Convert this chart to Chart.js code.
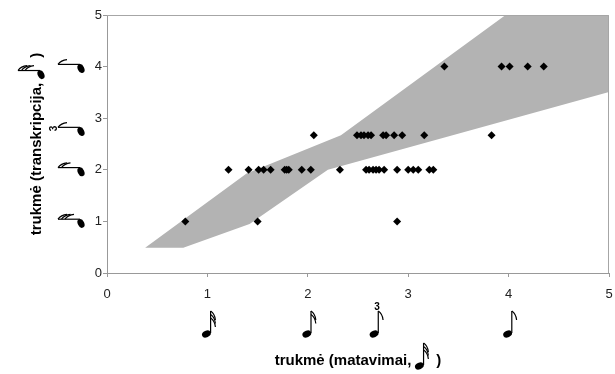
<!DOCTYPE html>
<html>
<head>
<meta charset="utf-8">
<script src="https://cdn.jsdelivr.net/npm/chart.js@4.4.1/dist/chart.umd.min.js"></script>
<style>
  html, body { margin: 0; padding: 0; background: #fff; }
  #wrap { width: 615px; height: 374px; }
</style>
</head>
<body>
<div id="wrap"><canvas id="chart" width="615" height="374"></canvas></div>
<script>
// measured points, grouped by transcribed duration (y)
const rowY = [1, 2, 2.67, 4];
const rowX = [
  [0.78, 1.50, 2.89],
  [1.21, 1.41, 1.51, 1.56, 1.63, 1.77, 1.79, 1.81, 1.94, 2.03, 2.32,
   2.58, 2.61, 2.65, 2.68, 2.71, 2.76, 2.89, 3.00, 3.05, 3.10, 3.21, 3.25],
  [2.06, 2.49, 2.53, 2.56, 2.60, 2.63, 2.75, 2.78, 2.86, 2.94, 3.16, 3.83],
  [3.36, 3.93, 4.01, 4.19, 4.35]
];

// grey tolerance band (outline)
const bandX = [0.38, 1.39, 2.33, 3.97, 5, 5, 2.2, 1.42, 0.76, 0.38];
const bandY = [0.49, 1.93, 2.67, 5, 5, 3.51, 2.0, 0.95, 0.49, 0.49];

// note symbols next to the axes: value, number of flags, triplet
const xNoteValues = [1, 2, 2.67, 4];
const yNoteValues = [1, 2, 2.78, 4];
const noteFlags = [3, 2, 1, 1];
const noteTriplet = [false, false, true, false];

const xTitle = "trukmė (matavimai,      )";
const yTitle = "trukmė (transkripcija,      )";
const FAMILY = "'Liberation Sans', Arial, sans-serif";

const points = [];
rowY.forEach((y, i) => rowX[i].forEach(x => points.push({ x, y })));
const band = bandX.map((x, i) => ({ x, y: bandY[i] }));

function drawNote(ctx, x, y, flags, triplet, angle) {
  ctx.save();
  ctx.translate(x, y);
  ctx.rotate(angle);
  ctx.fillStyle = "#000";
  ctx.strokeStyle = "#000";
  ctx.beginPath();
  ctx.ellipse(0, 0, 4.6, 3.2, -0.45, 0, Math.PI * 2);
  ctx.fill();
  ctx.lineWidth = 1.2;
  ctx.beginPath();
  ctx.moveTo(4.2, -1);
  ctx.lineTo(4.2, -23);
  ctx.stroke();
  for (let i = 0; i < flags; i++) {
    const fy = -23 + i * 3.5;
    ctx.beginPath();
    ctx.moveTo(4.2, fy);
    ctx.quadraticCurveTo(8.5, fy + 3, 9, fy + 9);
    ctx.stroke();
  }
  if (triplet) {
    ctx.font = "bold 10px " + FAMILY;
    ctx.textAlign = "center";
    ctx.textBaseline = "alphabetic";
    ctx.fillText("3", 3, -24);
  }
  ctx.restore();
}

const notesPlugin = {
  id: "notes",
  afterDraw(chart) {
    const { ctx, chartArea: a } = chart;
    const xs = chart.scales.x, ys = chart.scales.y;

    // frame on top and right
    ctx.save();
    ctx.strokeStyle = "#a6a6a6";
    ctx.lineWidth = 1;
    ctx.beginPath();
    ctx.moveTo(a.left, a.top + 0.5);
    ctx.lineTo(a.right - 0.5, a.top + 0.5);
    ctx.lineTo(a.right - 0.5, a.bottom);
    ctx.stroke();
    ctx.restore();

    xNoteValues.forEach((v, i) => {
      drawNote(ctx, xs.getPixelForValue(v) - 1, 334, noteFlags[i], noteTriplet[i], 0);
    });
    yNoteValues.forEach((v, i) => {
      drawNote(ctx, 81, ys.getPixelForValue(v) + 2, noteFlags[i], noteTriplet[i], -Math.PI / 2);
    });

    // notes inside the axis titles
    ctx.save();
    ctx.font = "bold 15px " + FAMILY;
    let wf = ctx.measureText(xTitle).width;
    let wp = ctx.measureText("trukmė (matavimai,").width;
    const cx = (xs.left + xs.right) / 2;
    const cy = xs.bottom - 4 - 9;
    drawNote(ctx, cx - wf / 2 + wp + 8, cy + 5, 3, false, 0);

    wf = ctx.measureText(yTitle).width;
    wp = ctx.measureText("trukmė (transkripcija,").width;
    const ty = (ys.top + ys.bottom) / 2;
    const tx = 28 + 9;
    drawNote(ctx, tx + 4, ty + wf / 2 - wp - 8, 3, false, -Math.PI / 2);
    ctx.restore();
  }
};

new Chart(document.getElementById("chart"), {
  type: "scatter",
  data: {
    datasets: [
      {
        data: points,
        order: 0,
        pointStyle: "rectRot",
        pointRadius: 4,
        backgroundColor: "#000",
        borderColor: "#000",
        borderWidth: 0
      },
      {
        data: band,
        order: 1,
        showLine: true,
        fill: "shape",
        backgroundColor: "#b3b3b3",
        borderColor: "#b3b3b3",
        borderWidth: 0,
        pointRadius: 0,
        tension: 0
      }
    ]
  },
  options: {
    responsive: false,
    devicePixelRatio: 1,
    animation: false,
    layout: { padding: { top: 15, right: 6, left: 0, bottom: 0 } },
    plugins: { legend: { display: false }, tooltip: { enabled: false } },
    scales: {
      x: {
        type: "linear",
        min: 0,
        max: 5,
        afterFit: s => { s.height = 101; s.paddingLeft = 0; s.paddingRight = 0; },
        ticks: { stepSize: 1, padding: 10, color: "#222", font: { size: 13, family: FAMILY } },
        grid: { drawOnChartArea: false, tickLength: 4, color: "#999" },
        border: { color: "#999" },
        title: {
          display: true,
          text: xTitle,
          color: "#000",
          font: { size: 15, weight: "bold", family: FAMILY },
          padding: { top: 0, bottom: 4 }
        }
      },
      y: {
        type: "linear",
        min: 0,
        max: 5,
        afterFit: s => { s.width = 107; s.paddingTop = 0; s.paddingBottom = 0; },
        ticks: { stepSize: 1, padding: 1, color: "#222", font: { size: 13, family: FAMILY } },
        grid: { drawOnChartArea: false, tickLength: 4, color: "#999" },
        border: { color: "#999" },
        title: {
          display: true,
          text: yTitle,
          color: "#000",
          font: { size: 15, weight: "bold", family: FAMILY },
          padding: { top: 28, bottom: 0 }
        }
      }
    }
  },
  plugins: [notesPlugin]
});
</script>
</body>
</html>
